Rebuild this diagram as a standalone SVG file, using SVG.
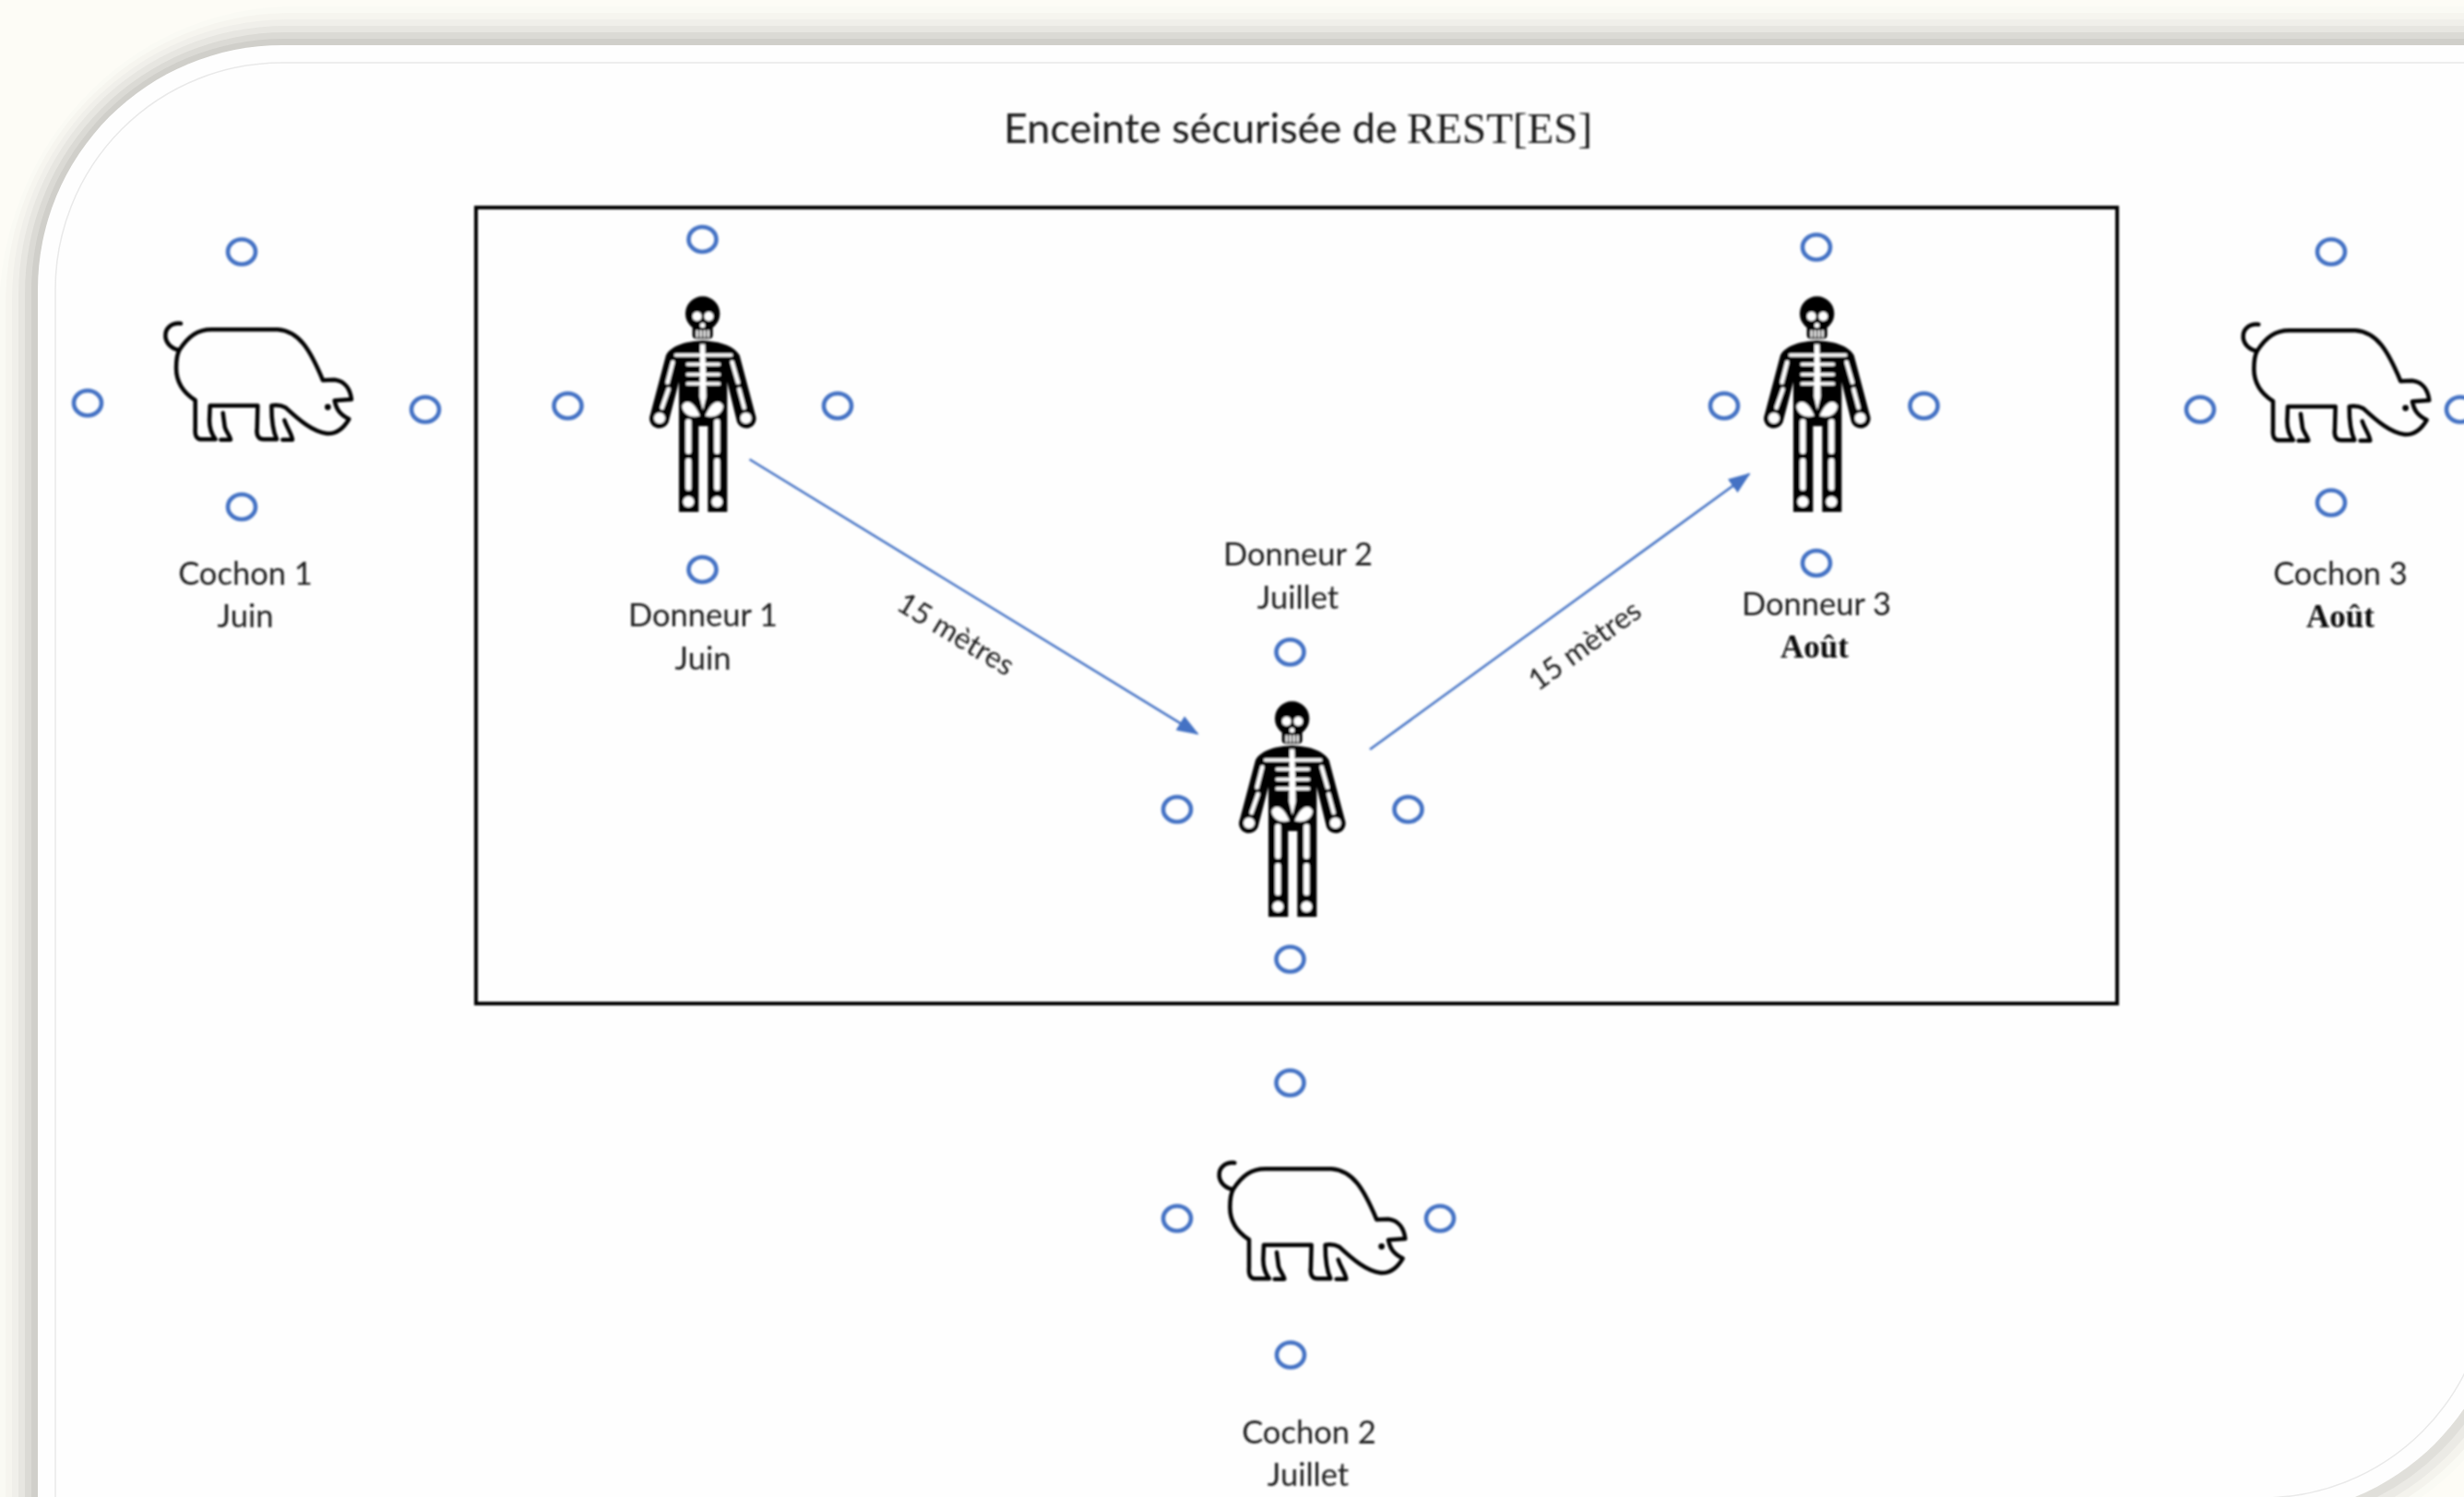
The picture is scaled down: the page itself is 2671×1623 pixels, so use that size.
<svg xmlns="http://www.w3.org/2000/svg" xmlns:xlink="http://www.w3.org/1999/xlink" width="2671" height="1623" viewBox="0 0 2671 1623">
<style>
.lbl{font-family:"Lato","Open Sans",sans-serif;font-size:34.5px;fill:#1e1e1e;text-anchor:middle}
.bold{font-family:"Liberation Serif",serif;font-size:35px;font-weight:bold;fill:#111;text-anchor:middle}
.rot{font-family:"Lato","Open Sans",sans-serif;font-size:32px;fill:#1e1e1e}
.title{font-family:"Lato","Open Sans",sans-serif;font-size:45px;fill:#1a1a1a}
.serif{font-family:"Liberation Serif",serif;font-size:47px;fill:#1a1a1a}
.port{fill:none;stroke:#4472c4;stroke-width:4.6}
.conn{fill:none;stroke:#4472c4;stroke-width:2.5;marker-end:url(#arr)}
.pigline{fill:none;stroke:#000;stroke-width:13.5;stroke-linejoin:round;stroke-linecap:round}
.bone{stroke:#fff;stroke-linecap:round;fill:none}
</style>
<defs>
<filter id="soft" x="0" y="0" width="2671" height="1623" filterUnits="userSpaceOnUse"><feGaussianBlur stdDeviation="0.8"/></filter>
<marker id="arr" markerUnits="userSpaceOnUse" markerWidth="24" markerHeight="18" refX="22" refY="9" orient="auto"><path d="M0 0L24 9L0 18Z" fill="#4472c4"/></marker>
<g id="pig" transform="scale(0.3333)">
<path class="pigline" d="M295 125C265 122 243 140 245 168C247 192 268 208 290 212C320 165 350 145 395 145L610 145C680 150 715 210 757 310L795 308C830 312 846 340 850 372L795 376C800 400 808 420 842 436C822 470 800 485 770 483C725 478 680 440 635 398C620 390 605 390 590 392C590 430 592 470 607 502L565 502C545 502 540 485 543 465L545 392L390 392L388 440C388 470 395 485 408 502L365 502C345 502 340 490 342 465L342 375C295 345 280 310 280 270C280 245 283 225 290 212"/>
<path class="pigline" d="M432 416L438 462C442 478 455 490 457 503L425 503"/>
<path class="pigline" d="M632 440C640 465 655 482 658 503L626 503"/>
<circle cx="773" cy="397" r="10" fill="#000"/>
</g>
<g id="skel">
<circle cx="305" cy="150" r="56" fill="#000"/>
<rect x="272" y="180" width="66" height="52" rx="12" fill="#000"/>
<circle cx="287" cy="159" r="15" fill="#fff"/><circle cx="325" cy="159" r="15" fill="#fff"/>
<circle cx="305" cy="188" r="8" fill="#fff"/>
<path class="bone" stroke-width="7" stroke-linecap="butt" d="M287 207V224M299 207V224M311 207V224M323 207V224"/>
<path fill="#000" d="M305 238C255 240 205 252 186 285L135 478A32 32 0 1 0 196 495L228 372L228 795L292 795L292 516L322 516L322 795L385 795L385 372L415 495A32 32 0 1 0 476 478L425 285C405 252 355 240 305 238Z"/>
<path class="bone" stroke-width="11" d="M218 285H398M256 315H358M256 348H358M256 378H358"/>
<path fill="#fff" d="M297 250L313 250L317 420L306 465L295 420Z"/>
<path fill="#fff" d="M238 450C250 428 275 432 296 482C272 492 240 480 238 450ZM372 450C360 428 335 432 314 482C338 492 370 480 372 450Z"/>
<path class="bone" stroke-width="13" d="M208 308L191 374M194 396L173 456M401 308L420 374M424 396L440 456"/>
<circle cx="165" cy="490" r="18" fill="#fff"/><circle cx="446" cy="490" r="18" fill="#fff"/>
<path class="bone" stroke-width="19" d="M259 502V597M259 630V716M352 502V597M352 630V716"/>
<circle cx="259" cy="762" r="18" fill="#fff"/><circle cx="352" cy="762" r="18" fill="#fff"/>
</g>
</defs>
<rect id="page" width="2671" height="1623" fill="#fdfcf6"/>
<g id="card">
<path fill="#fafaf4" d="M310 7H2760V1685H-1V340A320 333 0 0 1 310 7Z"/>
<path fill="#f6f5ef" d="M310 14H2760V1680H6V330A310 316 0 0 1 310 14Z"/>
<path fill="#f0efea" d="M310 21H2760V1680H13V325A300 304 0 0 1 310 21Z"/>
<path fill="#e7e6e1" d="M310 28H2760V1680H20V320A290 292 0 0 1 310 28Z"/>
<path fill="#dbdad5" d="M310 35H2760V1680H27V318A283 283 0 0 1 310 35Z"/>
<path fill="#d0cfca" d="M308 42H2760V1680H34V316A274 274 0 0 1 308 42Z"/>
<path fill="#fdfcf6" d="M2671 1480V1623H2520Z"/>
<g fill="none">
<path stroke="#fafaf4" stroke-width="70" d="M2717 1378A265 265 0 0 1 2452 1643"/>
<path stroke="#f4f3ed" stroke-width="54" d="M2717 1378A265 265 0 0 1 2452 1643"/>
<path stroke="#ebeae5" stroke-width="38" d="M2717 1378A265 265 0 0 1 2452 1643"/>
<path stroke="#e0dfda" stroke-width="20" d="M2717 1378A265 265 0 0 1 2452 1643"/>
</g>
<path fill="#fefefe" d="M306 49H2717V1378A265 265 0 0 1 2452 1643H41V314A265 265 0 0 1 306 49Z"/>
<path fill="none" stroke="#e9e9e9" stroke-width="1.5" d="M306 68H2698V1378A246 246 0 0 1 2452 1624H60V314A246 246 0 0 1 306 68Z"/>
</g>
<g id="diagram" filter="url(#soft)">
<g id="enclosure">
<rect x="516" y="225" width="1779" height="863" fill="none" stroke="#000" stroke-width="4"/>
<text class="title" x="1088" y="155">Enceinte sécurisée de</text>
<text class="serif" x="1525" y="155">REST[ES]</text>
</g>
<g id="connectors">
<path class="conn" d="M812.5 498L1298 795.5"/>
<path class="conn" d="M1485 812.5L1896 514"/>
<text class="rot" transform="translate(970 660) rotate(31.3)">15 mètres</text>
<text class="rot" transform="translate(1667 750) rotate(-36)">15 mètres</text>
</g>
<g id="cochon1">
<use href="#pig" transform="translate(97.7 309)"/>
<ellipse class="port" cx="262" cy="273" rx="15" ry="13.5"/><ellipse class="port" cx="95" cy="437" rx="15" ry="13.5"/><ellipse class="port" cx="461" cy="444" rx="15" ry="13.5"/><ellipse class="port" cx="262" cy="549.5" rx="15" ry="13.5"/>
<text class="lbl" x="266" y="633.5">Cochon 1</text><text class="lbl" x="266" y="679.5">Juin</text>
</g>
<g id="donneur1">
<use href="#skel" transform="translate(660 290) scale(0.3333)"/>
<ellipse class="port" cx="761.5" cy="259.5" rx="15" ry="13.5"/><ellipse class="port" cx="615.5" cy="440" rx="15" ry="13.5"/><ellipse class="port" cx="908" cy="440" rx="15" ry="13.5"/><ellipse class="port" cx="761.5" cy="617.5" rx="15" ry="13.5"/>
<text class="lbl" x="762" y="679">Donneur 1</text><text class="lbl" x="762" y="725.5">Juin</text>
</g>
<g id="donneur2">
<use href="#skel" transform="translate(1299 729) scale(0.3333)"/>
<ellipse class="port" cx="1398.5" cy="707" rx="15" ry="13.5"/><ellipse class="port" cx="1276" cy="877.5" rx="15" ry="13.5"/><ellipse class="port" cx="1526.5" cy="877.5" rx="15" ry="13.5"/><ellipse class="port" cx="1398.5" cy="1040" rx="15" ry="13.5"/>
<text class="lbl" x="1407" y="613">Donneur 2</text><text class="lbl" x="1407" y="659.5">Juillet</text>
</g>
<g id="donneur3">
<use href="#skel" transform="translate(1868 290) scale(0.3333)"/>
<ellipse class="port" cx="1969" cy="268" rx="15" ry="13.5"/><ellipse class="port" cx="1869" cy="440" rx="15" ry="13.5"/><ellipse class="port" cx="2085.5" cy="440" rx="15" ry="13.5"/><ellipse class="port" cx="1969" cy="610.5" rx="15" ry="13.5"/>
<text class="lbl" x="1969" y="667">Donneur 3</text><text class="bold" x="1967" y="713">Août</text>
</g>
<g id="cochon2">
<use href="#pig" transform="translate(1240 1219)"/>
<ellipse class="port" cx="1398.5" cy="1174" rx="15" ry="13.5"/><ellipse class="port" cx="1276" cy="1321" rx="15" ry="13.5"/><ellipse class="port" cx="1561" cy="1321" rx="15" ry="13.5"/><ellipse class="port" cx="1399" cy="1469" rx="15" ry="13.5"/>
<text class="lbl" x="1419" y="1564.5">Cochon 2</text><text class="lbl" x="1418" y="1610.5">Juillet</text>
</g>
<g id="cochon3">
<use href="#pig" transform="translate(2350 310)"/>
<ellipse class="port" cx="2527" cy="273" rx="15" ry="13.5"/><ellipse class="port" cx="2385" cy="444" rx="15" ry="13.5"/><ellipse class="port" cx="2667" cy="444" rx="15" ry="13.5"/><ellipse class="port" cx="2527" cy="545" rx="15" ry="13.5"/>
<text class="lbl" x="2537" y="633.5">Cochon 3</text><text class="bold" x="2537" y="680">Août</text>
</g>
</g>
</svg>
